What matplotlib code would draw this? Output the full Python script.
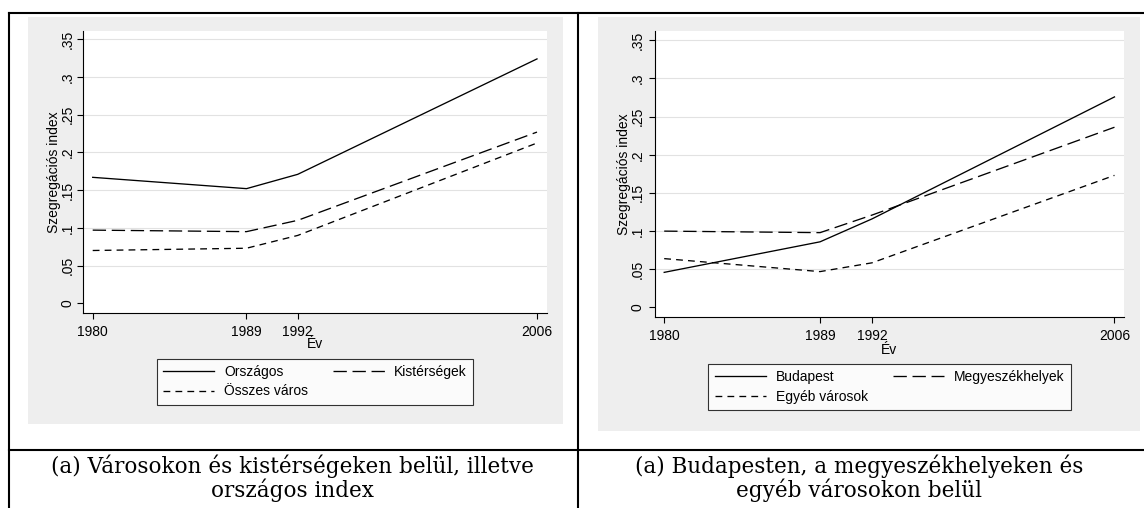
import matplotlib
matplotlib.use("Agg")
import matplotlib.pyplot as plt
from matplotlib.patches import Rectangle
from matplotlib.lines import Line2D

# data
years = [1980, 1989, 1992, 2006]
orszagos = [0.167, 0.152, 0.171, 0.324]
kistersegek = [0.097, 0.095, 0.110, 0.227]
osszes_varos = [0.070, 0.073, 0.090, 0.2125]
budapest = [0.046, 0.086, 0.116, 0.2757]
megyeszekhelyek = [0.100, 0.098, 0.121, 0.236]
egyeb_varosok = [0.064, 0.047, 0.0585, 0.173]

left_labels = ["Országos", "Kistérségek", "Összes város"]
right_labels = ["Budapest", "Megyeszékhelyek", "Egyéb városok"]
y_ticks = [0, 0.05, 0.1, 0.15, 0.2, 0.25, 0.3, 0.35]
y_ticklabels = ["0", ".05", ".1", ".15", ".2", ".25", ".3", ".35"]
y_title = "Szegregációs index"
x_title = "Év"
left_caption = ["(a) Városokon és kistérségeken belül, illetve", "országos index"]
right_caption = ["(a) Budapesten, a megyeszékhelyeken és", "egyéb városokon belül"]

W, H = 1144, 508
GRAY = "#eeeeee"
GRID = "#e2e2e2"
plt.rcParams["font.family"] = ["Liberation Sans", "DejaVu Sans"]
plt.rcParams["lines.scale_dashes"] = False

LONG = (0, (9.6, 4.1))
SHORT = (0, (4.9, 3.7))


def box(x0, y0, x1, y1):
    # pixel box (top-left origin) -> figure fraction rect
    return [x0 / W, 1 - y1 / H, (x1 - x0) / W, (y1 - y0) / H]


def fline(fig, xs, ys, lw=1.5):
    fig.add_artist(Line2D([x / W for x in xs], [1 - y / H for y in ys],
                          color="black", lw=lw, transform=fig.transFigure))


def draw_panel(fig, rect, ylim, xlim, series, labels, leg_center, ypad, ylpad, xlpad):
    ax = fig.add_axes(rect)
    styles = ["-", LONG, SHORT]
    handles = []
    for vals, ls, lab in zip(series, styles, labels):
        h, = ax.plot(years, vals, color="black", lw=0.95, linestyle=ls, label=lab)
        handles.append(h)
    ax.set_ylim(*ylim)
    ax.set_xlim(*xlim)
    ax.set_xticks(years)
    ax.set_yticks(y_ticks)
    ax.set_yticklabels(y_ticklabels, rotation=90, va="center")
    for yv in y_ticks[1:]:
        ax.axhline(yv, color=GRID, lw=0.8, zorder=0)
    for s in ["top", "right"]:
        ax.spines[s].set_visible(False)
    for s in ["left", "bottom"]:
        ax.spines[s].set_linewidth(0.8)
    ax.tick_params(direction="out", length=4, width=0.8, labelsize=10)
    ax.tick_params(axis="y", pad=ypad)
    ax.tick_params(axis="x", pad=4.5)
    ax.set_ylabel(y_title, fontsize=10, labelpad=ylpad)
    ax.set_xlabel(x_title, fontsize=10, labelpad=xlpad)
    ax.set_facecolor("white")
    # row-wise legend order: matplotlib fills columns first
    order = [handles[0], handles[2], handles[1]]
    leg = ax.legend(handles=order, ncol=2, loc="center",
                    bbox_to_anchor=(leg_center[0] / W, 1 - leg_center[1] / H),
                    bbox_transform=fig.transFigure, fontsize=10,
                    frameon=True, fancybox=False, edgecolor="black",
                    handlelength=3.7, handletextpad=0.7, columnspacing=1.8,
                    labelspacing=0.4, borderpad=0.45, borderaxespad=0)
    leg.get_frame().set_linewidth(0.8)
    return ax


fig = plt.figure(figsize=(W / 100, H / 100), dpi=100)
fig.patch.set_facecolor("white")

# gray graph regions
for r in [box(27.5, 17, 562.5, 424), box(597.5, 17, 1140, 431)]:
    fig.add_artist(Rectangle((r[0], r[1]), r[2], r[3], transform=fig.transFigure,
                             facecolor=GRAY, edgecolor="none", zorder=0))

draw_panel(fig, box(83, 30.7, 546.7, 313), (-0.01286, 0.3614), (1979.432, 2006.568),
           [orszagos, kistersegek, osszes_varos], left_labels, (315, 381.7), 2, 0, -1)
draw_panel(fig, box(655, 30.7, 1124, 317), (-0.01244, 0.3624), (1979.469, 2006.55),
           [budapest, megyeszekhelyek, egyeb_varosok], right_labels, (889.5, 387), 3.5, 0, 0)

# table borders
fline(fig, [8.5, W], [12.5, 12.5])
fline(fig, [8.5, 8.5], [12.5, H])
fline(fig, [578, 578], [12.5, H])
fline(fig, [8.5, W], [450, 450])

# captions
for cx, lines in [(292, left_caption), (859, right_caption)]:
    for i, txt in enumerate(lines):
        fig.text(cx / W, 1 - (473 + 24.5 * i) / H, txt, ha="center", va="baseline",
                 fontsize=15.5, family="DejaVu Serif")

fig.savefig("out.png", dpi=100)
